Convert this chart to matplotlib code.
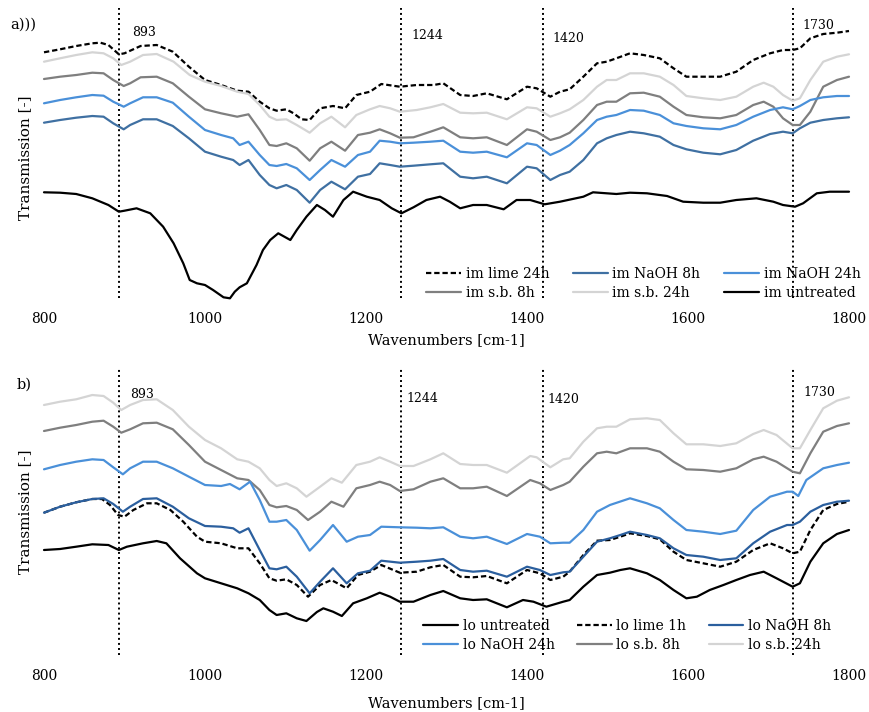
import matplotlib
matplotlib.use("Agg")
import matplotlib.pyplot as plt

plt.rcParams['font.family'] = ['DejaVu Serif']

# ---------------- data (transmission, arbitrary units) ----------------
# panel a
a_lime_x = [800,820,840,860,870,880,893,900,920,940,960,980,1000,1020,1040,1054,1068,1080,1089,1101,1110,1120,1130,1143,1159,1174,1188,1205,1219,1242,1263,1284,1296,1317,1333,1350,1375,1400,1412,1429,1441,1453,1470,1487,1499,1511,1528,1545,1565,1582,1598,1619,1640,1660,1681,1702,1718,1730,1739,1752,1768,1785,1800]
a_lime_y = [247.7,250.7,254,256.7,257.3,255,245.7,246.7,254,255,248.3,233.3,220,215,209.3,208.3,198.3,191.7,189.3,190.7,186.7,180.7,180,191.7,194,191.7,205,208.3,216,213.3,215,215,216.7,205,204,206.7,200.7,213.3,211.7,203.3,208.3,210.7,223.3,236.7,238.3,241.7,246.7,245,241.7,231.7,223.3,223.3,223.3,228.3,240,246.7,250,250,251.7,261.7,266,267.3,269]

a_sb24_x = [800,820,840,860,874,886,896,907,923,940,961,981,1000,1020,1040,1054,1068,1080,1089,1101,1114,1130,1143,1157,1174,1188,1205,1217,1230,1242,1263,1280,1296,1317,1333,1350,1375,1400,1412,1429,1441,1453,1470,1487,1499,1511,1528,1545,1565,1582,1598,1619,1640,1660,1681,1694,1706,1718,1730,1739,1752,1768,1785,1800]
a_sb24_y = [238.3,241.7,245,247.7,246.7,241.7,235,238.3,245,246,238.3,225,218.3,214,208.3,206,195,183.3,180,180.7,175,167.3,176.7,183.3,172.7,185,190.7,194,191.7,188.3,190,192.7,196,187.3,186.7,187.3,180.7,192.7,191.7,183.3,186.7,190.7,200,213.3,220,220,226.7,226.7,223.3,215,204,201.7,200,203.3,213.3,217.3,213.3,205,199.3,201.7,220,238.3,243.3,245.7]

a_sb8_x = [800,820,840,860,874,886,899,907,920,940,960,980,1000,1020,1040,1054,1068,1080,1089,1101,1114,1130,1143,1157,1174,1190,1205,1217,1230,1242,1259,1280,1296,1317,1333,1350,1375,1400,1412,1429,1441,1453,1470,1487,1499,1511,1528,1545,1565,1582,1598,1619,1640,1660,1681,1694,1706,1718,1730,1739,1752,1768,1785,1800]
a_sb8_y = [221,223.3,225,227.3,226.7,220,214,216.7,222.7,223.3,216.7,203.3,190.7,186.7,183.3,185.7,170,155,154,156.7,151.7,139.3,151.7,158.3,149.3,165,167.3,170.7,166.7,162.3,162.7,168.3,172.7,162.7,161.7,162.7,155,170.7,168.3,160,162.7,167.3,180,195,198.3,198.3,206.7,207.3,203.3,193.3,185,182.7,181.7,185,195,198.3,193.3,181.7,175,175,188.3,213.3,220,223.3]

a_naoh_x = [800,820,840,860,874,886,899,907,923,940,960,980,1000,1020,1035,1043,1054,1068,1080,1089,1101,1114,1130,1143,1157,1174,1190,1205,1217,1230,1242,1259,1280,1296,1317,1333,1350,1375,1400,1412,1429,1441,1453,1470,1487,1499,1511,1528,1545,1565,1582,1598,1619,1640,1660,1681,1702,1718,1730,1739,1752,1768,1785,1800]
a_naoh24_y = [196.7,200,202.7,205,204.3,198.3,193.3,196.7,202.7,202.7,197.3,183.3,170,165,161.7,155,158.3,145,135,134,136,131.7,120,130,140,133.3,145,148.3,159.3,158.3,156.7,157.3,158.3,159.3,148.3,147.3,148.3,142.7,156.7,155,145,149.3,155,166.7,180,183.3,185,190,189.3,185,176.7,174,171.7,170.7,175,183.3,190,192.7,190.7,194,200,202.7,204,204]
a_naoh8_y = [177.3,180,182.3,184,183.3,176.7,170.7,175,180.7,180.7,174,161.7,148.3,143.3,140,135,140,125,115,111.7,115,110,97.3,110,118.3,110.7,123.3,126,136.7,135,133.3,134.3,135.7,136.7,123.3,121.7,123.3,116.7,133.3,131.7,120,125,128.3,140,156.7,161.7,165,168.3,166.7,163.3,155,150.7,147.3,145.7,150,159.3,166,168.3,166.7,171.7,177.3,180,181.7,182.7]

a_untr_x = [800,820,840,860,880,893,900,915,932,948,961,973,981,990,1000,1010,1023,1031,1037,1043,1052,1064,1072,1081,1091,1106,1114,1126,1139,1149,1159,1172,1184,1201,1217,1232,1244,1259,1275,1292,1304,1317,1333,1350,1371,1387,1404,1422,1441,1470,1482,1499,1511,1528,1549,1574,1594,1619,1640,1660,1685,1706,1718,1733,1743,1760,1776,1800]
a_untr_y = [107.7,107.3,106,101.7,95,88.3,89.3,91.7,86.7,73.3,56.7,36.7,20,16.7,15,10,2.7,1.7,8.3,12.7,16.7,35,50,60,66.7,60,70,83.3,95,90,83.3,100,108.3,103.3,100,91.7,86.7,92.7,100,103.3,98.3,91.7,95,95,90.7,100,100,95.7,98.3,103.3,107.7,106.7,106,107.3,106.7,104,98.3,97.3,97.3,100,101.7,98.3,95,93.3,96.7,106.7,108.3,108.3]

# panel b
b_sb24_x = [800,820,840,860,874,886,896,907,923,940,960,980,1000,1020,1040,1054,1068,1080,1089,1101,1114,1126,1143,1157,1170,1188,1205,1217,1230,1242,1259,1280,1296,1317,1333,1350,1375,1404,1412,1429,1445,1453,1470,1487,1499,1511,1528,1549,1565,1582,1598,1619,1640,1660,1681,1694,1710,1730,1739,1752,1768,1785,1800]
b_sb24_y = [255,258.3,260.7,265,264,257.3,250,255,260,260.7,250,233.3,220,211.7,200.7,198.3,191.7,180,174,176.7,171.7,163.3,173.3,181.7,177.3,195,198.3,202.7,198.3,194,194,200.7,206.7,196,195,195,187.3,204,202.7,192.7,200.7,201.7,218.3,231.7,233.3,233.3,240.7,241.7,240,226.7,215.7,215.7,214,216.7,226,230,225,211.7,211.7,230,251.7,259.3,262.7]

b_sb8_x = [800,820,840,860,874,886,896,907,923,940,960,980,1000,1020,1040,1054,1068,1080,1089,1101,1114,1128,1143,1157,1172,1188,1205,1217,1230,1242,1259,1280,1296,1317,1333,1350,1375,1404,1416,1429,1445,1453,1470,1487,1499,1511,1528,1549,1565,1582,1598,1619,1640,1660,1681,1694,1710,1730,1739,1752,1768,1785,1800]
b_sb8_y = [229,232.3,235,238.3,239.3,233.3,227.3,230.7,236.7,237.3,230.7,215,198.3,190,181.7,180,170,155,152.7,154,150,140,148.3,158.3,153.3,171.7,175,178.3,175,169,170.7,178.3,181.7,171.7,171.7,173.3,164,180,176.7,170,175,178.3,193.3,206.7,208.3,206.7,211.7,211.7,208.3,198.3,190.7,190,188.3,191.7,200.7,203.3,198.3,188.3,186.7,206.7,228.3,234,236.7]

b_naoh24_x = [800,820,840,860,874,886,898,907,923,940,960,980,1000,1020,1031,1043,1056,1068,1080,1089,1101,1114,1130,1143,1159,1176,1190,1205,1219,1242,1263,1280,1296,1317,1333,1350,1375,1400,1416,1429,1445,1453,1470,1487,1503,1528,1549,1565,1582,1598,1619,1640,1660,1681,1702,1723,1730,1737,1747,1768,1785,1800]
b_naoh24_y = [190.7,195,198.3,200.7,200,192.7,185.7,191.7,198.3,198.3,191.7,183.3,175,174,176,170.7,178.3,160,138.3,138.3,140,130,109.3,120,135,118.3,123.3,125,133.3,132.7,132.3,131.7,132.7,123.3,121.7,123.3,116,126,123.3,116.7,117.3,117.3,130,148.3,155,161.7,156.7,151.7,140,130,128.3,126,129.3,150,163.3,168.3,168.3,164,180,191.7,195,197.3]

b_naoh8_x = [800,820,840,860,874,886,898,907,923,940,960,980,1000,1020,1035,1043,1054,1068,1080,1089,1101,1114,1130,1143,1159,1176,1190,1205,1219,1242,1263,1280,1296,1317,1333,1350,1375,1400,1416,1429,1445,1453,1470,1487,1503,1516,1528,1549,1565,1582,1598,1619,1640,1660,1681,1702,1723,1730,1739,1752,1768,1785,1800]
b_naoh8_y = [147.3,153.3,157.7,161,161.7,156,148.3,153.3,161,161.7,153.3,141.7,134,133.3,131.7,127.3,131.7,110,91.7,90.7,93.3,83.3,66.7,78.3,91.7,76.7,86.7,89.3,99.3,97.3,98.3,99.3,101,90,88.3,89.3,83.3,93.3,90,85,87.7,88.3,103.3,118.3,121.7,125,128.3,125,121.7,111.7,105,103.3,100,101.7,116.7,128.3,135,135,138.3,148.3,155,158.3,159.3]

b_lime_x = [800,820,840,860,872,882,892,900,911,928,940,957,973,990,1000,1020,1040,1054,1068,1080,1089,1101,1114,1128,1143,1157,1176,1190,1205,1219,1242,1263,1280,1296,1317,1333,1350,1375,1400,1416,1429,1445,1453,1470,1487,1503,1516,1528,1549,1565,1582,1598,1619,1640,1660,1681,1702,1718,1730,1739,1752,1768,1785,1800]
b_lime_y = [147.3,153.3,157.7,161,161,155,145,143.3,150,156.7,156.7,150,138.3,123.3,118.3,116.7,111.7,111.7,96.7,81.7,79.3,80.7,75,63.3,75,80,71.7,85,88.3,95,87.3,88.3,92.7,95,83.3,82.7,84,76.7,90,86.7,80,83.3,88.3,105,119.3,120,123.3,126.7,124,120.7,108.3,100,96.7,93.3,98.3,110,116.7,111.7,106.7,108.3,130,150,156,158.3]

b_untr_x = [800,820,840,860,880,893,903,923,940,952,969,990,1000,1020,1040,1054,1068,1080,1089,1101,1114,1126,1139,1147,1159,1170,1184,1201,1217,1230,1242,1259,1280,1296,1317,1333,1350,1375,1395,1408,1424,1445,1453,1470,1487,1503,1516,1528,1549,1565,1582,1598,1611,1627,1644,1660,1677,1694,1710,1730,1739,1752,1768,1785,1800]
b_untr_y = [110,111,113.3,115.7,115,110,113.3,116.7,119,116.7,101.7,86.7,81.7,76.7,71.7,66.7,60,50,45,46.7,41.7,39,48,51.7,48.3,44,56.7,61.7,67.3,63.3,58.3,58.3,65,69,61.7,60,60.7,52.7,60,58.3,53.3,58.3,60,73.3,85,87.3,90,91.7,86.7,80,70,61.7,63.3,70,75,80,85,88.3,81.7,73.3,76.7,98.3,116.7,126,130]

peaks = [893, 1244, 1420, 1730]
peak_labels = ['893', '1244', '1420', '1730']
xticks = [800, 1000, 1200, 1400, 1600, 1800]

# ---------------- styling ----------------
C_BLACK = '#000000'
C_LGREY = '#d4d4d4'
C_GREY = '#7f7f7f'
C_LBLUE = '#4a90d9'
C_DBLUE_A = '#3f70a2'
C_DBLUE_B = '#2b5f9e'
LW = 1.6
DASH = (0, (2.4, 1.3))

W, H = 870, 712
fig = plt.figure(figsize=(W / 100, H / 100), dpi=100)

def fx(px):
    return px / W

def fy(py):
    return 1 - py / H

ax_a = fig.add_axes([fx(44), fy(298), fx(805), 290 / H])
ax_b = fig.add_axes([fx(44), fy(655), fx(805), 287 / H])

kw = dict(lw=LW, clip_on=False, solid_joinstyle='round', solid_capstyle='round')

la_lime, = ax_a.plot(a_lime_x, a_lime_y, color=C_BLACK, ls=DASH, label='im lime 24h', lw=LW, clip_on=False)
la_sb24, = ax_a.plot(a_sb24_x, a_sb24_y, color=C_LGREY, label='im s.b. 24h', **kw)
la_sb8, = ax_a.plot(a_sb8_x, a_sb8_y, color=C_GREY, label='im s.b. 8h', **kw)
la_n24, = ax_a.plot(a_naoh_x, a_naoh24_y, color=C_LBLUE, label='im NaOH 24h', **kw)
la_n8, = ax_a.plot(a_naoh_x, a_naoh8_y, color=C_DBLUE_A, label='im NaOH 8h', **kw)
la_un, = ax_a.plot(a_untr_x, a_untr_y, color=C_BLACK, label='im untreated', **kw)

lb_sb24, = ax_b.plot(b_sb24_x, b_sb24_y, color=C_LGREY, label='lo s.b. 24h', **kw)
lb_sb8, = ax_b.plot(b_sb8_x, b_sb8_y, color=C_GREY, label='lo s.b. 8h', **kw)
lb_n24, = ax_b.plot(b_naoh24_x, b_naoh24_y, color=C_LBLUE, label='lo NaOH 24h', **kw)
lb_lime, = ax_b.plot(b_lime_x, b_lime_y, color=C_BLACK, ls=DASH, label='lo lime 1h', lw=LW, clip_on=False)
lb_n8, = ax_b.plot(b_naoh8_x, b_naoh8_y, color=C_DBLUE_B, label='lo NaOH 8h', **kw)
lb_un, = ax_b.plot(b_untr_x, b_untr_y, color=C_BLACK, label='lo untreated', **kw)

ax_a.set_ylim(2, 292)
ax_b.set_ylim(5, 292)

label_pos_a = [(909, 0.917), (1257, 0.905), (1432, 0.895), (1742, 0.94)]
label_pos_b = [(907, 0.906), (1250, 0.894), (1426, 0.891), (1743, 0.913)]

for ax, lpos in ((ax_a, label_pos_a), (ax_b, label_pos_b)):
    ax.set_xlim(800, 1800)
    ax.set_xticks(xticks)
    ax.set_yticks([])
    for s in ax.spines.values():
        s.set_visible(False)
    for p, lab, (tx, ty) in zip(peaks, peak_labels, lpos):
        ax.axvline(p, color='black', lw=1.4, ls=(0, (1, 1.6)), zorder=0)
        ax.text(tx, ty, lab, transform=ax.get_xaxis_transform(), fontsize=9,
                ha='left', va='center')
    ax.set_xlabel('Wavenumbers [cm-1]', fontsize=10.5)
    ax.set_ylabel('Transmission [-]', fontsize=11)
    ax.xaxis.label.set_va('center')

ax_a.yaxis.set_label_coords(-12 / 805, 0.485)
ax_b.yaxis.set_label_coords(-12 / 805, 0.5)
ax_a.tick_params(axis='x', length=0, labelsize=10, pad=10)
ax_b.tick_params(axis='x', length=0, labelsize=10, pad=10)
ax_a.xaxis.set_label_coords(0.5, (298 - 340) / 290)
ax_b.xaxis.set_label_coords(0.5, (655 - 703) / 287)

leg_kw = dict(ncol=3, frameon=False, fontsize=10, loc='lower left',
              borderpad=0, borderaxespad=0, handlelength=2.5, handletextpad=0.35,
              labelspacing=0.35, bbox_transform=fig.transFigure)
ax_a.legend([la_lime, la_sb8, la_n8, la_sb24, la_n24, la_un],
            ['im lime 24h', 'im s.b. 8h', 'im NaOH 8h', 'im s.b. 24h', 'im NaOH 24h', 'im untreated'],
            bbox_to_anchor=(fx(426), fy(300)), columnspacing=1.7, **leg_kw)
ax_b.legend([lb_un, lb_n24, lb_lime, lb_sb8, lb_n8, lb_sb24],
            ['lo untreated', 'lo NaOH 24h', 'lo lime 1h', 'lo s.b. 8h', 'lo NaOH 8h', 'lo s.b. 24h'],
            bbox_to_anchor=(fx(423), fy(652)), columnspacing=1.6, **leg_kw)

fig.text(fx(10), fy(25), 'a)))', fontsize=10.5, ha='left', va='center')
fig.text(fx(17), fy(385), 'b)', fontsize=10.5, ha='left', va='center')

fig.savefig('out.png', dpi=100)
